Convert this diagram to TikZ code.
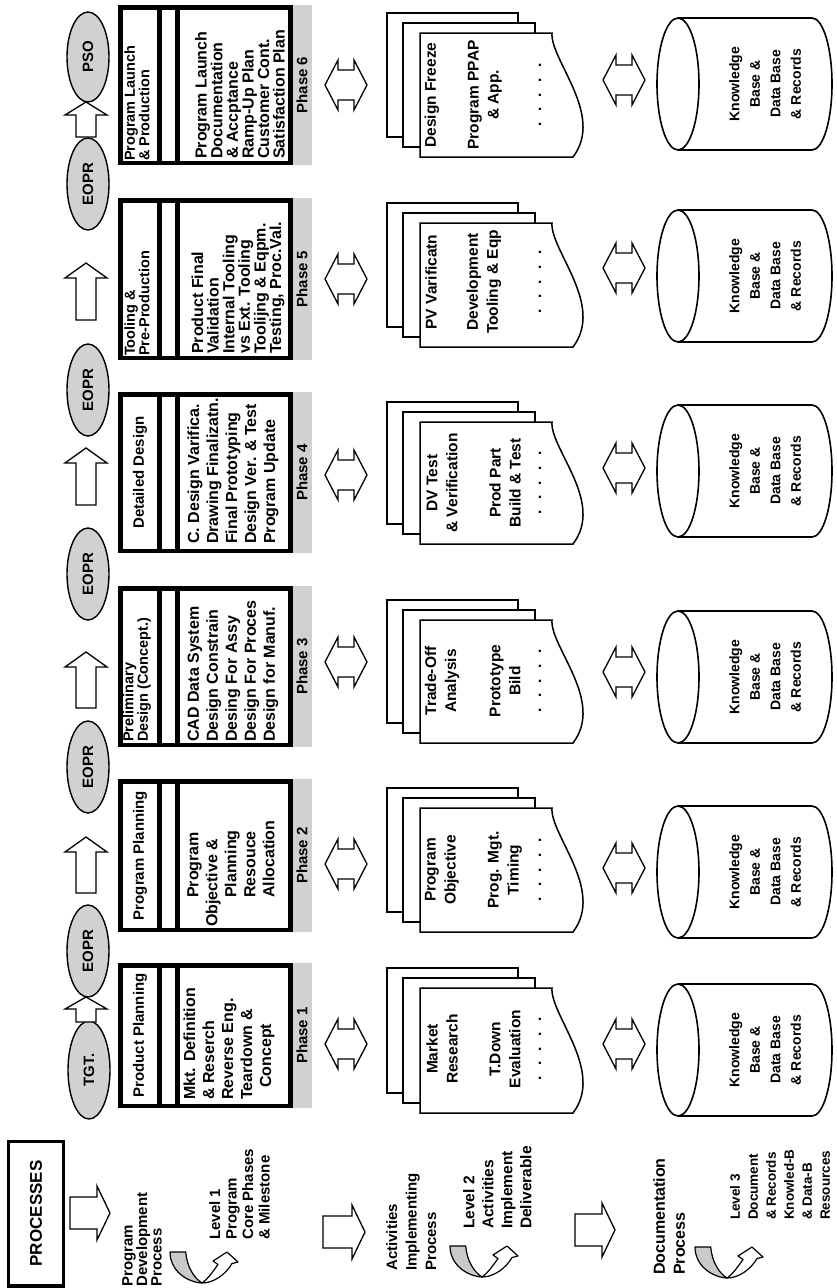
\documentclass[tikz,border=0pt]{standalone}
\usepackage{fontspec}
\setmainfont{Liberation Sans}
\usetikzlibrary{shapes.geometric}
\definecolor{msgray}{RGB}{208,209,211}
\definecolor{cagray}{RGB}{200,201,203}
\newcommand\ffs[2]{\fontsize{#1}{#2}\selectfont\bfseries}
\tikzset{
 blk/.style={draw, fill=white, line width=1.3pt},
 pg/.style={draw, fill=white, line width=1.5pt},
 cylline/.style={draw, line width=1.6pt},
 phline/.style={line width=4.5pt},
 txt/.style={rotate=90, inner sep=0pt},
 milestone/.style={ellipse, draw, line width=1.4pt, fill=msgray, rotate=90, minimum width=92pt, minimum height=42pt, inner sep=0pt, font=\ffs{15}{15}},
 ttl/.style={txt, font=\ffs{15}{13}, align=left},
 ttltwo/.style={txt, font=\ffs{14.5}{13}, align=left, anchor=west},
 bdy/.style={txt, font=\ffs{16}{19}, align=left, anchor=west},
 bdysix/.style={txt, font=\ffs{16}{15.6}, align=left, anchor=west},
 phs/.style={txt, font=\ffs{15}{15}},
 doct/.style={txt, font=\ffs{15.5}{20}, align=center},
 kbt/.style={txt, font=\ffs{14}{20.5}, align=center},
 lft/.style={txt, align=left, anchor=north west},
 carr/.style={draw, line width=1.2pt, line join=round},
}
% up block arrow: xc, ytip, ybase, headlen (image coords, y down)
\newcommand\uparr[4]{\draw[blk] ({#1},{-(#2)}) -- ({#1+21},{-(#2)-(#4)}) -- ({#1+10},{-(#2)-(#4)}) -- ({#1+10},{-(#3)}) -- ({#1-10},{-(#3)}) -- ({#1-10},{-(#2)-(#4)}) -- ({#1-21},{-(#2)-(#4)}) -- cycle;}
% right block arrow: x0, x1, yc
\newcommand\rtarr[3]{\draw[blk] ({#1},{-(#3)+16}) -- ({#2-13},{-(#3)+16}) -- ({#2-13},{-(#3)+27}) -- ({#2},{-(#3)}) -- ({#2-13},{-(#3)-27}) -- ({#2-13},{-(#3)-16}) -- ({#1},{-(#3)-16}) -- cycle;}
% double block arrow: x0, x1, yc
\newcommand\dblarr[3]{\draw[blk] ({#1},{-(#3)}) -- ({#1+13},{-(#3)+25}) -- ({#1+13},{-(#3)+15}) -- ({#2-13},{-(#3)+15}) -- ({#2-13},{-(#3)+25}) -- ({#2},{-(#3)}) -- ({#2-13},{-(#3)-25}) -- ({#2-13},{-(#3)-15}) -- ({#1+13},{-(#3)-15}) -- ({#1+13},{-(#3)-25}) -- cycle;}
% stack of documents: y0, y1 of the front page
\newcommand\docstack[2]{%
 \draw[pg] (387,{-(#1)+20}) rectangle (518,{-(#2)+20});
 \draw[pg] (403,{-(#1)+10}) rectangle (535,{-(#2)+10});
 \draw[pg] (420,{-(#1)}) -- (552,{-(#1)}) .. controls (550,{-(#1)-27}) and (605,{-(#2)+42}) .. (573,{-(#2)}) -- (420,{-(#2)}) -- cycle;}
% cylinder: yc
\newcommand\mkcyl[1]{%
 \draw[cylline] (678,{-(#1)+66}) -- (812,{-(#1)+66}) arc[start angle=90,end angle=-90,x radius=20,y radius=66] -- (678,{-(#1)-66});
 \draw[cylline] (678,{-(#1)}) ellipse[x radius=21,y radius=66];}
% phase box: y0, y1 outer
\newcommand\phasebox[2]{%
 \fill[msgray] (290,{-(#1)}) rectangle (312,{-(#2)});
 \draw[phline] (120.5,{-(#1)-2.25}) rectangle (290.5,{-(#2)+2.25});
 \draw[phline] (159.5,{-(#1)-2.25}) -- (159.5,{-(#2)+2.25});
 \draw[phline] (177.5,{-(#1)-2.25}) -- (177.5,{-(#2)+2.25});}
% U-turn arrow: x0 (left of gray band top), yb (top of gray band)
\newcommand\curvarr[2]{%
 \draw[carr, fill=cagray] ({#1},{-(#2)}) -- ({#1+15.7},{-(#2)}) .. controls ({#1+17},{-(#2)-15}) and ({#1+24},{-(#2)-26}) .. ({#1+32},{-(#2)-31}) .. controls ({#1+16},{-(#2)-30}) and ({#1},{-(#2)-18}) .. ({#1},{-(#2)}) -- cycle;
 \draw[carr, fill=white] ({#1+32},{-(#2)-31}) .. controls ({#1+38},{-(#2)-27}) and ({#1+44},{-(#2)-18}) .. ({#1+48},{-(#2)-12.5}) -- ({#1+43},{-(#2)-9}) -- ({#1+57},{-(#2)}) -- ({#1+68},{-(#2)-10}) -- ({#1+62},{-(#2)-11.5}) .. controls ({#1+56},{-(#2)-22}) and ({#1+44},{-(#2)-31}) .. ({#1+32},{-(#2)-31}) -- cycle;}
\newcommand\dotrow{.\hspace{10.5pt}.\hspace{10.5pt}.\hspace{10.5pt}.\hspace{10.5pt}.}

\begin{document}
\begin{tikzpicture}[x=1pt,y=1pt]
\useasboundingbox (0,0) rectangle (836,-1288);

% ---------- left column ----------
\node[draw, line width=3.5pt, rotate=90, minimum width=144.5pt, minimum height=55pt, inner sep=0pt, font=\ffs{17}{17}] (proc) at (36,-1213.5) {PROCESSES};
\rtarr{70}{110}{1213}
\rtarr{323}{365}{1232}
\rtarr{575}{615}{1230}
\node[lft, font=\ffs{15}{14.5}] (pdp) at (122,-1287) {Program\\Development\\Process};
\node[lft, font=\ffs{15}{16.5}] (lvl1) at (209,-1240) {Level 1\\Program\\Core Phases\\\& Milestone};
\node[lft, font=\ffs{15}{19.5}] (aip) at (386,-1271) {Activities\\Implementing\\Process};
\node[lft, font=\ffs{15.5}{19}] (lvl2) at (463,-1229) {Level 2\\Activities\\Implement\\Deliverable};
\node[lft, font=\ffs{16}{20}] (dop) at (653,-1275) {Documentation\\Process};
\node[lft, font=\ffs{13.5}{18}] (lvl3) at (730,-1220) {Level 3\\Document\\\& Records\\Knowled-B\\\& Data-B\\Resources};
\curvarr{170}{1252}
\curvarr{450}{1246}
\curvarr{695}{1247}

% ---------- milestones ----------
\node[milestone, minimum width=98pt] (tgt) at (89,-1070) {TGT.};
\node[milestone] (eopr1) at (88,-951) {EOPR};
\node[milestone] (eopr2) at (88,-767) {EOPR};
\node[milestone] (eopr3) at (88,-574) {EOPR};
\node[milestone] (eopr4) at (88,-390) {EOPR};
\node[milestone] (eopr5) at (88,-184) {EOPR};
\node[milestone, minimum width=90pt] (pso) at (88,-57) {PSO};
\uparr{86}{997}{1022}{12}
\uparr{86}{837}{893}{15}
\uparr{86}{652}{708}{15}
\uparr{86}{448}{505}{15}
\uparr{86}{263}{320}{15}
\uparr{86}{102}{137}{13}

% ---------- phase boxes ----------
\phasebox{963}{1108}
\phasebox{779}{932}
\phasebox{586}{747}
\phasebox{392}{553}
\phasebox{198}{360}
\phasebox{5}{165}

\node[ttl] (t1) at (140,-1035.5) {Product Planning};
\node[ttl] (t2) at (140,-855.5) {Program Planning};
\node[ttltwo] (t3) at (137,-742) {Preliminary\\Design (Concept.)};
\node[ttl] (t4) at (140,-472.5) {Detailed Design};
\node[ttltwo] (t5) at (137,-356) {Tooling \&\\Pre-Production};
\node[ttltwo] (t6) at (137,-161) {Program Launch\\\& Production};

\node[bdy] (b1) at (229,-1100) {Mkt. Definition\\\& Reserch\\Reverse Eng.\\Teardown \&\\\hspace*{12pt}Concept};
\node[bdy] (b2) at (231,-927) {\hspace*{29pt}Program\\Objective \&\\\hspace*{29pt}Planning\\\hspace*{29pt}Resouce\\\hspace*{29pt}Allocation};
\node[bdy] (b3) at (233,-742) {CAD Data System\\Design Constrain\\Desing For Assy\\Design For Proces\\Design for Manuf.};
\node[bdy] (b4) at (233,-544) {C. Design Varifica.\\Drawing Finalizatn.\\Final Prototyping\\Design Ver. \& Test\\Program Update};
\node[bdysix] (b5) at (238,-354) {Product Final\\Validation\\Internal Tooling\\vs Ext. Tooling\\Toolijng \& Eqpm.\\Testing, Proc.Val.};
\node[bdysix] (b6) at (240,-159) {Program Launch\\Documentation\\\& Accptance\\Ramp-Up Plan\\Customer Cont.\\Satisfaction Plan};

\node[phs] (ph1) at (302,-1035.5) {Phase 1};
\node[phs] (ph2) at (302,-855.5) {Phase 2};
\node[phs] (ph3) at (302,-666.5) {Phase 3};
\node[phs] (ph4) at (302,-472.5) {Phase 4};
\node[phs] (ph5) at (302,-279) {Phase 5};
\node[phs] (ph6) at (302,-85) {Phase 6};

% ---------- double arrows ----------
\dblarr{325}{367}{85}
\dblarr{325}{367}{279}
\dblarr{325}{367}{475}
\dblarr{325}{367}{662}
\dblarr{325}{367}{864}
\dblarr{325}{367}{1044}
\dblarr{603}{645}{80}
\dblarr{603}{645}{268}
\dblarr{603}{645}{468}
\dblarr{603}{645}{672}
\dblarr{603}{645}{868}
\dblarr{603}{645}{1044}

% ---------- documents ----------
\docstack{988}{1113}
\docstack{808}{932}
\docstack{620}{743}
\docstack{422}{544}
\docstack{223}{347}
\docstack{33}{157}
\node[doct] (d1a) at (442,-1049) {Market\\Research};
\node[doct] (d1b) at (505,-1049) {T.Down\\Evaluation};
\node[doct] (d1c) at (540,-1049) {\dotrow};
\node[doct] (d2a) at (442,-870) {Program\\Objective};
\node[doct] (d2b) at (505,-870) {Prog. Mgt.\\Timing};
\node[doct] (d2c) at (540,-870) {\dotrow};
\node[doct] (d3a) at (442,-681) {Trade-Off\\Analysis};
\node[doct] (d3b) at (505,-681) {Prototype\\Bild};
\node[doct] (d3c) at (540,-681) {\dotrow};
\node[doct] (d4a) at (442,-483) {DV Test\\\& Verification};
\node[doct] (d4b) at (505,-483) {Prod Part\\Build \& Test};
\node[doct] (d4c) at (540,-483) {\dotrow};
\node[doct] (d5a) at (431,-282) {PV Varificatn};
\node[doct] (d5b) at (484,-282) {Development\\Tooling \& Eqp};
\node[doct] (d5c) at (540,-282) {\dotrow};
\node[doct] (d6a) at (432,-95) {Design Freeze};
\node[doct] (d6b) at (485,-95) {Program PPAP\\\& App.};
\node[doct] (d6c) at (540,-95) {\dotrow};

% ---------- cylinders ----------
\mkcyl{1050}
\mkcyl{872}
\mkcyl{677}
\mkcyl{471}
\mkcyl{276}
\mkcyl{84}
\node[kbt] (k1) at (765,-1050) {Knowledge\\Base \&\\Data Base\\\& Records};
\node[kbt] (k2) at (765,-872) {Knowledge\\Base \&\\Data Base\\\& Records};
\node[kbt] (k3) at (765,-677) {Knowledge\\Base \&\\Data Base\\\& Records};
\node[kbt] (k4) at (765,-471) {Knowledge\\Base \&\\Data Base\\\& Records};
\node[kbt] (k5) at (765,-276) {Knowledge\\Base \&\\Data Base\\\& Records};
\node[kbt] (k6) at (765,-84) {Knowledge\\Base \&\\Data Base\\\& Records};
\end{tikzpicture}
\end{document}
